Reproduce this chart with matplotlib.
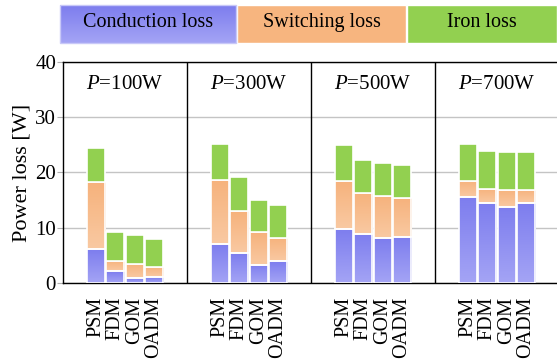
import numpy as np
import matplotlib.pyplot as plt
from matplotlib.colors import LinearSegmentedColormap
from matplotlib.patches import Rectangle

plt.rcParams['font.family'] = ['Liberation Serif', 'DejaVu Serif']
plt.rcParams['mathtext.fontset'] = 'custom'
plt.rcParams['mathtext.it'] = 'Liberation Serif:italic'
plt.rcParams['mathtext.rm'] = 'Liberation Serif'

# datos
powers = ['100W', '300W', '500W', '700W']
methods = ['PSM', 'FDM', 'GOM', 'OADM']
conduction = [
    [6.1, 2.1, 0.9, 1.0],
    [7.0, 5.4, 3.3, 3.9],
    [9.8, 8.9, 8.1, 8.4],
    [15.6, 14.5, 13.8, 14.5],
]
switching = [
    [12.1, 1.9, 2.6, 1.9],
    [11.7, 7.6, 5.9, 4.2],
    [8.7, 7.4, 7.7, 7.0],
    [2.9, 2.6, 3.1, 2.4],
]
iron = [
    [6.3, 5.2, 5.1, 5.1],
    [6.5, 6.1, 5.9, 6.0],
    [6.4, 5.9, 5.9, 5.9],
    [6.7, 6.8, 6.9, 6.8],
]
legend_names = ['Conduction loss', 'Switching loss', 'Iron loss']

blue_cmap = LinearSegmentedColormap.from_list('b', ['#a4a4f5', '#7d7dee'])
orange_cmap = LinearSegmentedColormap.from_list('o', ['#f9c9a2', '#f6b27c'])
green = '#92d050'

panel_w = 6.4
offset = 1.7
bar_w = 0.93

fig = plt.figure(figsize=(5.57, 3.63), dpi=100)
ax = fig.add_axes([0.1131, 0.2204, 0.8905, 0.6088])
ax.set_xlim(0, panel_w * len(powers))
ax.set_ylim(0, 40)


def grad_fill(ax, bars, cmap):
    grad = np.linspace(0, 1, 64).reshape(-1, 1)
    for b in bars:
        x0, y0 = b.get_x(), b.get_y()
        w, h = b.get_width(), b.get_height()
        im = ax.imshow(grad, cmap=cmap, aspect='auto', origin='lower',
                       extent=(x0, x0 + w, y0, y0 + h), zorder=2)
        im.set_clip_path(b)


xticks = []
xlabels = []
for p, pw in enumerate(powers):
    xs = p * panel_w + offset + np.arange(len(methods))
    c = np.array(conduction[p])
    s = np.array(switching[p])
    fe = np.array(iron[p])
    b1 = ax.bar(xs, c, bar_w, color='none', edgecolor='white', lw=1.2, zorder=3)
    b2 = ax.bar(xs, s, bar_w, bottom=c, color='none', edgecolor='white', lw=1.2, zorder=3)
    ax.bar(xs, fe, bar_w, bottom=c + s, color=green, edgecolor='white', lw=1.2, zorder=3)
    grad_fill(ax, b1, blue_cmap)
    grad_fill(ax, b2, orange_cmap)
    ax.text((p + 0.5) * panel_w, 36, '$P$=' + pw, ha='center', va='center', fontsize=15)
    if p > 0:
        ax.axvline(p * panel_w, color='black', lw=1.0, zorder=4)
    xticks.extend(xs)
    xlabels.extend(methods)

ax.set_xticks(xticks)
ax.set_xticklabels(xlabels, rotation=90, fontsize=14.5)
ax.tick_params(axis='x', length=0, pad=10)
ax.set_yticks([0, 10, 20, 30, 40])
ax.tick_params(axis='y', labelsize=15, length=4, color='#b0b0b0', pad=1)
ax.yaxis.grid(True, color='#c4c4c4', lw=1.0, zorder=0)
ax.set_axisbelow(True)
ax.set_ylabel('Power loss [W]', fontsize=16, labelpad=3)
for sp in ['left', 'top', 'bottom']:
    ax.spines[sp].set_color('black')
    ax.spines[sp].set_linewidth(1.0)
ax.spines['right'].set_visible(False)

# leyenda como cajas de color arriba
leg_boxes = [(60, 236), (237, 406), (407, 557)]
for i, (name, (x0, x1)) in enumerate(zip(legend_names, leg_boxes)):
    fx0, fx1 = x0 / 557, x1 / 557
    fy0, fy1 = 1 - 43 / 363, 1 - 5 / 363
    if i == 0:
        lax = fig.add_axes([fx0, fy0, fx1 - fx0, fy1 - fy0])
        lax.imshow(np.linspace(0, 1, 64).reshape(-1, 1), cmap=blue_cmap,
                   aspect='auto', origin='lower', extent=(0, 1, 0, 1))
        lax.set_xlim(0, 1)
        lax.set_ylim(0, 1)
        lax.set_axis_off()
        fig.patches.append(Rectangle((fx0, fy0), fx1 - fx0, fy1 - fy0, transform=fig.transFigure,
                                     facecolor='none', edgecolor='#c8c8f8', lw=1, zorder=5))
    else:
        col = '#f7b57f' if i == 1 else green
        fig.patches.append(Rectangle((fx0, fy0), fx1 - fx0, fy1 - fy0, transform=fig.transFigure,
                                     facecolor=col, edgecolor='white', lw=1))
    fig.text((fx0 + fx1) / 2, (fy0 + fy1) / 2 + 0.005, name, ha='center', va='center',
             fontsize=14.5, zorder=10)

fig.savefig('out.png', dpi=100)
